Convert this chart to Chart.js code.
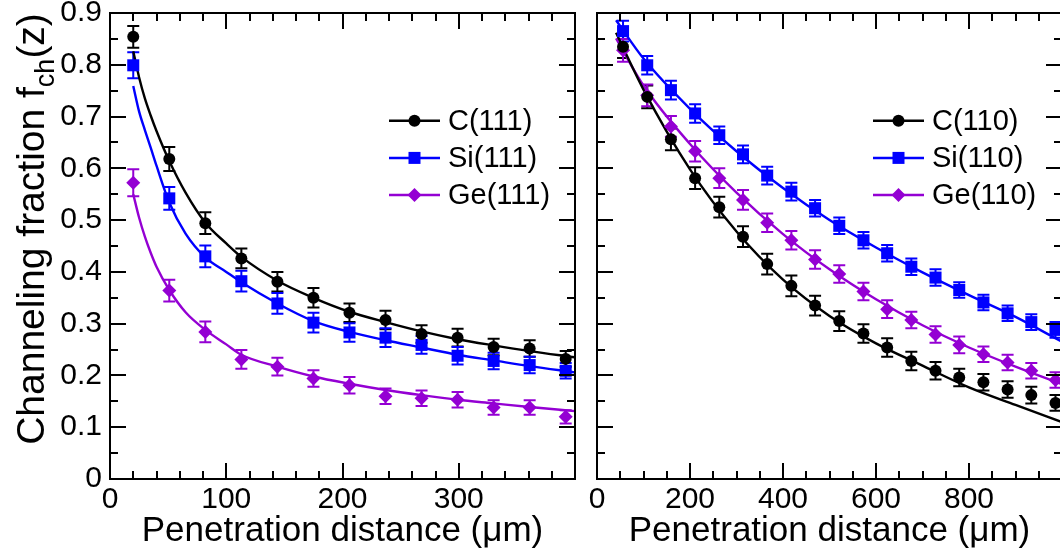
<!DOCTYPE html>
<html>
<head>
<meta charset="utf-8">
<script src="https://cdn.jsdelivr.net/npm/chart.js@4.4.1/dist/chart.umd.min.js"></script>
<style>
  html, body { margin: 0; padding: 0; background: #fff; overflow: hidden; width: 1060px; height: 554px; }
  #chartL { position: absolute; left: 0; top: 0; }
  #chartR { position: absolute; left: 587px; top: 0; }
</style>
</head>
<body>
<canvas id="chartL" width="590" height="554"></canvas>
<canvas id="chartR" width="490" height="554"></canvas>
<script>
// left panel: (111) planes
const zLeft = [20, 51, 82, 113, 144, 175, 206, 237, 268, 299, 330, 361, 392];
const c111 = [0.854, 0.618, 0.494, 0.426, 0.381, 0.350, 0.321, 0.307, 0.280, 0.273, 0.255, 0.252, 0.232];
const c111Err = [0.021, 0.023, 0.021, 0.019, 0.019, 0.019, 0.018, 0.018, 0.017, 0.017, 0.016, 0.016, 0.015];
const si111 = [0.799, 0.542, 0.430, 0.382, 0.339, 0.302, 0.283, 0.273, 0.259, 0.238, 0.228, 0.220, 0.209];
const si111Err = [0.025, 0.022, 0.021, 0.020, 0.020, 0.019, 0.018, 0.018, 0.017, 0.017, 0.016, 0.016, 0.015];
const ge111 = [0.572, 0.364, 0.284, 0.231, 0.217, 0.194, 0.181, 0.160, 0.156, 0.153, 0.138, 0.138, 0.120];
const ge111Err = [0.026, 0.021, 0.020, 0.018, 0.017, 0.016, 0.016, 0.015, 0.015, 0.015, 0.014, 0.014, 0.013];

// fitted curves, left panel
const fitZLeft = [20, 25, 30, 35, 40, 51, 65, 82, 100, 113, 144, 175, 206, 237, 268, 299, 330, 361, 400];
const c111Fit = [0.826, 0.776, 0.735, 0.702, 0.672, 0.614, 0.553, 0.495, 0.455, 0.429, 0.383, 0.350, 0.323, 0.303, 0.285, 0.270, 0.258, 0.247, 0.235];
const si111Fit = [0.759, 0.710, 0.674, 0.640, 0.605, 0.534, 0.474, 0.428, 0.400, 0.380, 0.339, 0.305, 0.284, 0.268, 0.254, 0.240, 0.229, 0.218, 0.206];
const ge111Fit = [0.550, 0.505, 0.468, 0.437, 0.410, 0.365, 0.322, 0.288, 0.260, 0.240, 0.217, 0.198, 0.184, 0.172, 0.162, 0.153, 0.146, 0.139, 0.131];

// right panel: (110) planes
const zRight = [56, 108, 159, 211, 263, 314, 366, 418, 469, 521, 573, 624, 676, 728, 779, 831, 883, 934, 986];
const c110 = [0.835, 0.738, 0.656, 0.581, 0.525, 0.468, 0.415, 0.373, 0.335, 0.305, 0.281, 0.254, 0.228, 0.209, 0.196, 0.187, 0.173, 0.162, 0.147];
const c110Err = [0.022, 0.022, 0.021, 0.021, 0.020, 0.020, 0.020, 0.020, 0.019, 0.019, 0.018, 0.018, 0.018, 0.017, 0.017, 0.016, 0.016, 0.016, 0.015];
const si110 = [0.865, 0.799, 0.751, 0.706, 0.664, 0.627, 0.586, 0.555, 0.523, 0.489, 0.461, 0.436, 0.410, 0.389, 0.365, 0.341, 0.320, 0.303, 0.288];
const si110Err = [0.020, 0.018, 0.018, 0.018, 0.017, 0.017, 0.017, 0.017, 0.016, 0.016, 0.016, 0.016, 0.016, 0.016, 0.015, 0.015, 0.015, 0.015, 0.015];
const ge110 = [0.828, 0.741, 0.681, 0.633, 0.581, 0.539, 0.495, 0.461, 0.424, 0.396, 0.362, 0.328, 0.307, 0.279, 0.259, 0.241, 0.225, 0.209, 0.191];
const ge110Err = [0.022, 0.021, 0.020, 0.020, 0.019, 0.019, 0.018, 0.018, 0.018, 0.017, 0.017, 0.017, 0.016, 0.016, 0.016, 0.015, 0.015, 0.015, 0.015];

const fitZRight = [41, 100, 200, 300, 400, 500, 600, 700, 800, 900, 1000];
const c110Fit = [0.862, 0.752, 0.598, 0.478, 0.385, 0.315, 0.262, 0.219, 0.177, 0.143, 0.110];
const si110Fit = [0.886, 0.812, 0.715, 0.633, 0.562, 0.500, 0.447, 0.399, 0.355, 0.313, 0.265];
const ge110Fit = [0.851, 0.760, 0.647, 0.553, 0.473, 0.405, 0.347, 0.297, 0.254, 0.217, 0.183];

const yTickLabels = ['0', '0.1', '0.2', '0.3', '0.4', '0.5', '0.6', '0.7', '0.8', '0.9'];

const BLACK = '#000000', BLUE = '#0000ff', VIOLET = '#9400d3';
const FONT = "'Liberation Sans', Arial, sans-serif";
Chart.defaults.font.family = FONT;
Chart.defaults.color = '#000';

function isMajor(v, step) {
  return Math.abs(v / step - Math.round(v / step)) < 1e-6;
}

function pts(xs, ys) {
  return xs.map((x, i) => ({ x: x, y: ys[i] }));
}

function markerPath(ctx, style, x, y) {
  ctx.beginPath();
  if (style === 'circle') {
    ctx.arc(x, y, 6, 0, Math.PI * 2);
  } else if (style === 'rect') {
    ctx.rect(x - 6, y - 6, 12, 12);
  } else {
    ctx.moveTo(x, y - 7); ctx.lineTo(x + 7, y); ctx.lineTo(x, y + 7); ctx.lineTo(x - 7, y);
    ctx.closePath();
  }
}

// error bars, inward ticks, frame, legend and y title
const panelPlugin = {
  id: 'panel',
  beforeDatasetsDraw(chart) {
    const ctx = chart.ctx, a = chart.chartArea;
    const xs = chart.scales.x, ys = chart.scales.y;
    ctx.save();
    ctx.beginPath();
    ctx.rect(a.left, a.top, a.right - a.left, a.bottom - a.top);
    ctx.clip();
    chart.data.datasets.forEach(ds => {
      if (!ds.errors) return;
      ctx.strokeStyle = ds.borderColor;
      ctx.lineWidth = 2;
      ds.data.forEach((p, i) => {
        const px = xs.getPixelForValue(p.x);
        const y1 = ys.getPixelForValue(p.y + ds.errors[i]);
        const y2 = ys.getPixelForValue(p.y - ds.errors[i]);
        ctx.beginPath();
        ctx.moveTo(px, y1); ctx.lineTo(px, y2);
        ctx.moveTo(px - 6, y1); ctx.lineTo(px + 6, y1);
        ctx.moveTo(px - 6, y2); ctx.lineTo(px + 6, y2);
        ctx.stroke();
      });
    });
    ctx.restore();
  },
  afterDraw(chart, args, opts) {
    const ctx = chart.ctx, a = chart.chartArea;
    const xs = chart.scales.x, ys = chart.scales.y;
    ctx.save();
    ctx.strokeStyle = '#000';
    ctx.lineWidth = 2;
    ctx.strokeRect(a.left, a.top, a.right - a.left, a.bottom - a.top);
    ctx.beginPath();
    xs.ticks.forEach(t => {
      const p = Math.round(xs.getPixelForValue(t.value));
      const len = isMajor(t.value, opts.xMajor) ? 16 : 8;
      ctx.moveTo(p, a.bottom); ctx.lineTo(p, a.bottom - len);
      ctx.moveTo(p, a.top); ctx.lineTo(p, a.top + len);
    });
    ys.ticks.forEach(t => {
      const p = Math.round(ys.getPixelForValue(t.value));
      const len = isMajor(t.value, 0.1) ? 16 : 8;
      ctx.moveTo(a.left, p); ctx.lineTo(a.left + len, p);
      ctx.moveTo(a.right, p); ctx.lineTo(a.right - len, p);
    });
    ctx.stroke();

    // legend
    let row = 0;
    chart.data.datasets.forEach(ds => {
      if (!ds.errors) return;
      const y = opts.legendY + row * 37.2;
      ctx.strokeStyle = ds.borderColor;
      ctx.lineWidth = 2.5;
      ctx.beginPath();
      ctx.moveTo(opts.legendX, y); ctx.lineTo(opts.legendX + 51, y);
      ctx.stroke();
      ctx.fillStyle = ds.backgroundColor;
      markerPath(ctx, ds.pointStyle, opts.legendX + 25.5, y);
      ctx.fill();
      ctx.fillStyle = '#000';
      ctx.font = '29px ' + FONT;
      ctx.textBaseline = 'middle';
      ctx.textAlign = 'left';
      ctx.fillText(ds.label, opts.legendX + 59, y + 1);
      row++;
    });

    // y title with subscript
    if (opts.yTitle) {
      ctx.translate(opts.yTitleX, 229);
      ctx.rotate(-Math.PI / 2);
      ctx.fillStyle = '#000';
      ctx.textBaseline = 'alphabetic';
      ctx.textAlign = 'left';
      const big = '39px ' + FONT, small = '27px ' + FONT;
      const s1 = 'Channeling fraction f', s2 = 'ch', s3 = '(z)';
      ctx.font = big; const w1 = ctx.measureText(s1).width, w3 = ctx.measureText(s3).width;
      ctx.font = small; const w2 = ctx.measureText(s2).width;
      let x = -(w1 + w2 + w3) / 2;
      ctx.font = big; ctx.fillText(s1, x, 0); x += w1;
      ctx.font = small; ctx.fillText(s2, x, 10); x += w2;
      ctx.font = big; ctx.fillText(s3, x, 0);
    }
    ctx.restore();
  }
};

function pointSet(label, xs, ys, errs, color, style) {
  return {
    label: label, data: pts(xs, ys), errors: errs,
    showLine: false, borderColor: color, backgroundColor: color,
    pointStyle: style, pointRadius: style === 'rect' ? 8.5 : (style === 'circle' ? 6 : 7),
    pointBorderWidth: 0, pointHoverRadius: 0, order: 1
  };
}

function fitSet(xs, ys, color) {
  return {
    label: '', data: pts(xs, ys), showLine: true, pointRadius: 0,
    borderColor: color, borderWidth: 2.4, cubicInterpolationMode: 'monotone', order: 2
  };
}

function noPad(s) {
  s.paddingTop = 0; s.paddingBottom = 0; s.paddingLeft = 0; s.paddingRight = 0;
}

function makeChart(id, datasets, xMax, xStep, xMajor, leftPanel, legendX) {
  return new Chart(document.getElementById(id), {
    type: 'scatter',
    data: { datasets: datasets },
    options: {
      responsive: false,
      animation: false,
      events: [],
      layout: { padding: { top: 13, right: 15, left: 0, bottom: 0 } },
      plugins: {
        legend: { display: false },
        tooltip: { enabled: false },
        panel: { xMajor: xMajor, legendX: legendX, legendY: 120.7, yTitle: leftPanel, yTitleX: 44 }
      },
      scales: {
        x: {
          type: 'linear', min: 0, max: xMax,
          grid: { display: false, drawTicks: false },
          border: { display: false },
          ticks: {
            stepSize: xStep, autoSkip: false, maxRotation: 0, padding: 3,
            font: { size: 30 },
            callback: v => (isMajor(v, xMajor) && v < xMax) ? String(v) : ''
          },
          title: { display: true, text: 'Penetration distance (μm)', font: { size: 35 }, padding: { top: 0, bottom: 2 } },
          afterFit: s => { s.height = 75; noPad(s); }
        },
        y: {
          type: 'linear', min: 0, max: 0.9,
          grid: { display: false, drawTicks: false },
          border: { display: false },
          ticks: {
            display: leftPanel, stepSize: 0.05, autoSkip: false, padding: 8,
            font: { size: 30 },
            callback: v => isMajor(v, 0.1) ? yTickLabels[Math.round(v * 10)] : ''
          },
          afterFit: s => { s.width = leftPanel ? 110 : 10; noPad(s); }
        }
      }
    },
    plugins: [panelPlugin]
  });
}

makeChart('chartL', [
  pointSet('C(111)', zLeft, c111, c111Err, BLACK, 'circle'),
  pointSet('Si(111)', zLeft, si111, si111Err, BLUE, 'rect'),
  pointSet('Ge(111)', zLeft, ge111, ge111Err, VIOLET, 'rectRot'),
  fitSet(fitZLeft, c111Fit, BLACK),
  fitSet(fitZLeft, si111Fit, BLUE),
  fitSet(fitZLeft, ge111Fit, VIOLET)
], 400, 20, 100, true, 389);

makeChart('chartR', [
  pointSet('C(110)', zRight, c110, c110Err, BLACK, 'circle'),
  pointSet('Si(110)', zRight, si110, si110Err, BLUE, 'rect'),
  pointSet('Ge(110)', zRight, ge110, ge110Err, VIOLET, 'rectRot'),
  fitSet(fitZRight, c110Fit, BLACK),
  fitSet(fitZRight, si110Fit, BLUE),
  fitSet(fitZRight, ge110Fit, VIOLET)
], 1000, 50, 200, false, 286);
</script>
</body>
</html>
